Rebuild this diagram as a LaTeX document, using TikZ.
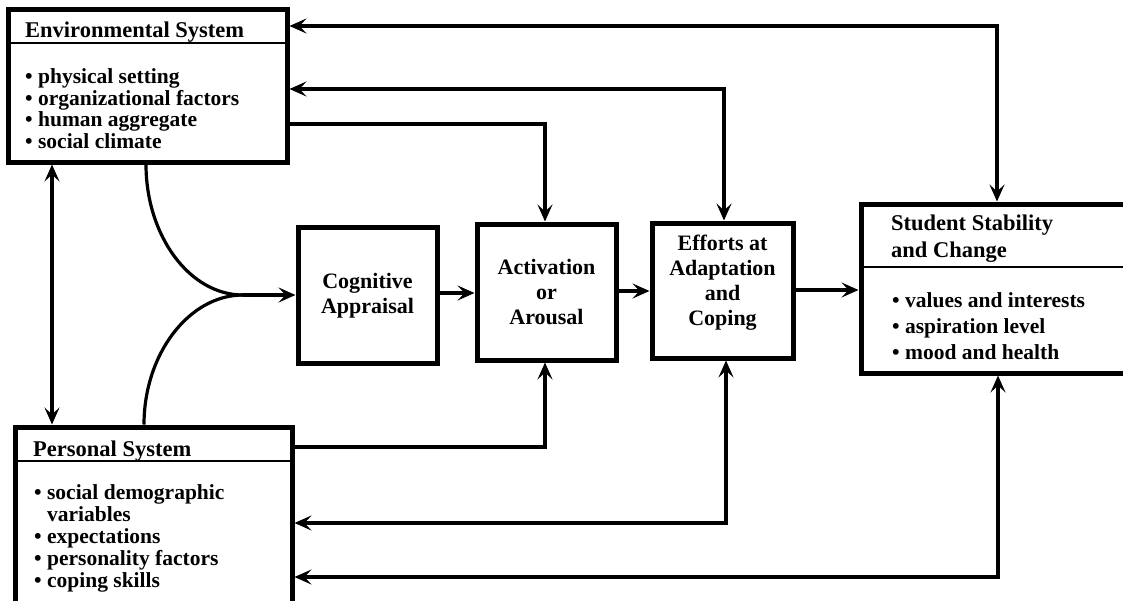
\documentclass[tikz,border=0pt]{standalone}
\usepackage{fontspec}
\setmainfont{Liberation Serif}
\usetikzlibrary{arrows.meta}
\begin{document}
\begin{tikzpicture}[x=1pt,y=-1pt,
  box/.style={draw, line width=5pt, inner sep=0pt},
  hline/.style={line width=2.8pt},
  conn/.style={line width=3.2pt},
  >={Stealth[length=17pt,width=15pt,inset=7pt]},
  hd/.style={font=\fontsize{22.5pt}{25pt}\selectfont\bfseries, inner sep=0pt, anchor=base west},
  li/.style={font=\fontsize{21.5pt}{22pt}\selectfont\bfseries, inner sep=0pt, anchor=base west},
  ctext/.style={font=\fontsize{22pt}{25pt}\selectfont\bfseries, inner sep=0pt, align=center},
]
\useasboundingbox (0,0) rectangle (1123,600);
\fill[white] (0,0) rectangle (1123,600);

% ---------- boxes ----------
\node[box, minimum width=279pt, minimum height=153pt] (env) at (147.5,85.5) {};
\draw[hline] (8,43) -- (287,43);
\node[hd] (envh) at (25,37) {Environmental System};
\foreach \t/\yy [count=\i] in {physical setting/83, organizational factors/105, human aggregate/126, social climate/148}
  \node[li] (envl\i) at (25,\yy) {• \t};

\node[box, minimum width=277pt, minimum height=180pt] (pers) at (153.5,517) {};
\draw[hline] (15,461) -- (292,461);
\node[hd] (persh) at (33,456) {Personal System};
\node[li] (persl1) at (34,499) {• social demographic};
\node[li] (persl2) at (34,521) {\phantom{• }variables};
\node[li] (persl3) at (34,543) {• expectations};
\node[li] (persl4) at (34,565) {• personality factors};
\node[li] (persl5) at (34,587) {• coping skills};

\node[box, minimum width=139pt, minimum height=136pt] (cog) at (367.5,295) {};
\node[ctext] (cogt) at (367.5,296) {Cognitive\\Appraisal};

\node[box, minimum width=139pt, minimum height=136pt] (act) at (546.5,292) {};
\node[ctext] (actt) at (546.5,292) {Activation\\or\\Arousal};

\node[box, minimum width=141pt, minimum height=135pt] (eff) at (722.5,290.5) {};
\node[ctext] (efft) at (722.5,283) {Efforts at\\Adaptation\\and\\Coping};

\node[box, minimum width=266pt, minimum height=169pt] (stu) at (994,288.5) {};
\draw[hline] (861,267) -- (1127,267);
\node[hd] (stuh1) at (891,230) {Student Stability};
\node[hd] (stuh2) at (891,257) {and Change};
\foreach \t/\yy [count=\i] in {values and interests/307, aspiration level/333, mood and health/359}
  \node[li] (stul\i) at (892,\yy) {• \t};

% ---------- coordinates ----------
\coordinate (vx) at (52,0);
\coordinate (c1) at (146,0);
\coordinate (c2) at (144,0);
\coordinate (J) at (243,295);
\coordinate (r1) at (997,26);
\coordinate (r2) at (724,89);
\coordinate (r3) at (545,124);
\coordinate (r4) at (545,447);
\coordinate (r5) at (726,523);
\coordinate (r6) at (998,577);

% ---------- connectors ----------
\draw[conn,<->] (env.south -| vx) -- (pers.north -| vx);
\draw[conn] (env.south -| c1) .. controls (146,235) and (189,295) .. (J);
\draw[conn] (pers.north -| c2) .. controls (144,354) and (189,295) .. (J);
\draw[conn,->] (J) -- (cog.west |- J);
\draw[conn,->] (cog.east |- 0,293) -- (act.west |- 0,293);
\draw[conn,->] (act.east |- 0,291) -- (eff.west |- 0,291);
\draw[conn,->] (eff.east |- 0,290) -- (stu.west |- 0,290);

\draw[conn,<->] (env.east |- r1) -- (r1) -- (stu.north -| r1);
\draw[conn,<->] (env.east |- r2) -- (r2) -- (eff.north -| r2);
\draw[conn,->] (env.east |- r3) -- (r3) -- (act.north -| r3);

\draw[conn,->] (pers.east |- r4) -- (r4) -- (act.south -| r4);
\draw[conn,<->] (pers.east |- r5) -- (r5) -- (eff.south -| r5);
\draw[conn,<->] (pers.east |- r6) -- (r6) -- (stu.south -| r6);
\end{tikzpicture}
\end{document}
